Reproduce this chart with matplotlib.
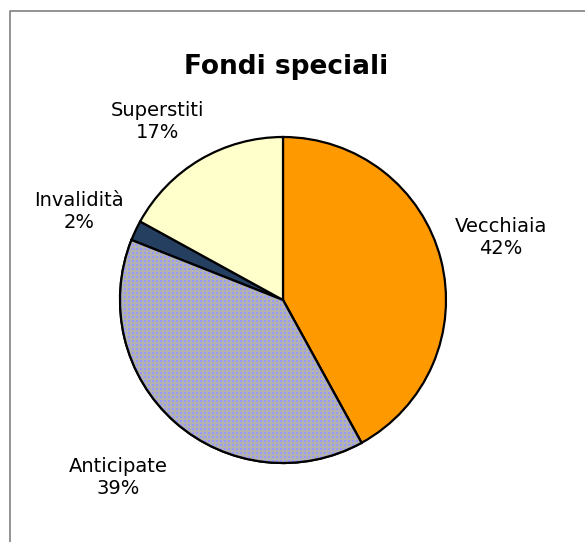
import numpy as np
import matplotlib.pyplot as plt
from matplotlib.patches import Wedge

labels = ['Vecchiaia', 'Anticipate', 'Invalidità', 'Superstiti']
values = [42, 39, 2, 17]
colors = ['#FF9900', '#B2B2B2', '#243F60', '#FFFFCC']
title = 'Fondi speciali'

# label centres in pixels (x, y from top)
label_pos = [(501, 238), (118, 477), (79, 211), (158, 122)]

W, H = 585, 542
fig = plt.figure(figsize=(W / 100, H / 100), dpi=100)
ax = fig.add_axes([0, 0, 1, 1])

cx, cy, r = 283, H - 300, 163
wedges, _ = ax.pie(values, colors=colors, startangle=90, counterclock=False,
                   center=(cx, cy), radius=r,
                   wedgeprops=dict(edgecolor='black', linewidth=1.6))

# blue dot pattern on the "Anticipate" slice (tiled 4px cell)
gray = np.array([0.70, 0.70, 0.70])
blue = np.array([0.60, 0.60, 1.00])
yy, xx = np.mgrid[0:H, 0:W]
mask = ((xx % 4) < 2) & ((yy % 4) < 2)
tex = np.where(mask[..., None], blue, gray)
w = wedges[1]
im = ax.imshow(tex, extent=(0, W, 0, H), origin='upper', interpolation='nearest',
               zorder=w.get_zorder() + 0.1)
clip = Wedge(w.center, w.r, w.theta1, w.theta2, transform=ax.transData)
im.set_clip_path(clip)
outline = Wedge(w.center, w.r, w.theta1, w.theta2, facecolor='none',
                edgecolor='black', linewidth=1.6, zorder=w.get_zorder() + 0.2)
ax.add_patch(outline)

for lab, v, (px, py) in zip(labels, values, label_pos):
    ax.text(px, H - py, f'{lab}\n{v}%', ha='center', va='center',
            fontsize=14, linespacing=1.2, family='DejaVu Sans')

ax.text(286, H - 67, title, ha='center', va='center', fontsize=19,
        fontweight='bold', family='DejaVu Sans')

# chart area border (cut by the image edge)
ax.plot([10, 10, W + 5], [-5, H - 11, H - 11], color='#808080', linewidth=1.2,
        clip_on=False)

ax.set_xlim(0, W)
ax.set_ylim(0, H)
ax.set_aspect('auto')
ax.axis('off')

fig.savefig('out.png', dpi=100)
